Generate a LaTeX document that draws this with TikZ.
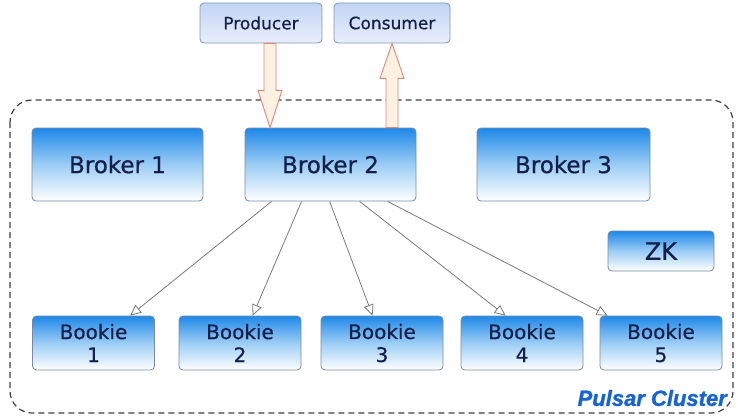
\documentclass[tikz,border=0pt]{standalone}
\usepackage{fontspec}
\setmainfont{DejaVu Sans}[FakeBold=0.6]
\newfontfamily\clusterfont{Liberation Sans}[FakeBold=1.2]
\usetikzlibrary{arrows.meta,calc}
\definecolor{txt}{HTML}{15204A}
\definecolor{bluetop}{HTML}{1E88E8}
\definecolor{bluemid}{HTML}{9CCDF5}
\definecolor{boxline}{HTML}{7A8AA6}
\definecolor{clienttop}{HTML}{C3D4F4}
\definecolor{clientbot}{HTML}{E9EFFB}
\definecolor{clientline}{HTML}{8093BA}
\definecolor{fatfill}{HTML}{FDF1E2}
\definecolor{fatline}{HTML}{E0887A}
\definecolor{linkgray}{HTML}{7A7A7A}
\definecolor{clusterblue}{HTML}{1663D6}
\tikzset{
  bluebox/.style={draw=boxline, line width=0.8pt, rounded corners=4pt,
    top color=bluetop, bottom color=white, middle color=bluemid,
    text=txt, align=center, inner sep=0pt},
  clientbox/.style={draw=clientline, line width=0.8pt, rounded corners=4pt,
    top color=clienttop, bottom color=clientbot,
    text=txt, align=center, inner sep=0pt, font=\fontsize{17}{20}\selectfont},
  link/.style={draw=linkgray, line width=0.8pt,
    -{Triangle[open, length=11pt, width=10pt, fill=white]}},
  fatarrow/.style={draw=fatline, fill=fatfill, line width=0.9pt, line join=miter},
}
\begin{document}
\begin{tikzpicture}[x=1pt,y=-1pt]
\useasboundingbox (0,0) rectangle (738,415);
% cluster frame
\draw[dashed, dash pattern=on 6pt off 4pt, line width=1.2pt, draw=black!75, rounded corners=22pt]
  (10,100) rectangle (733,413);
% clients
\node[clientbox, minimum width=122pt, minimum height=40pt] (prod) at (261,23) {Producer};
\node[clientbox, minimum width=116pt, minimum height=40pt] (cons) at (392,23) {Consumer};
% brokers
\node[bluebox, minimum width=171pt, minimum height=73pt, font=\fontsize{23}{26}\selectfont] (b1) at (117.5,164.5) {Broker 1};
\node[bluebox, minimum width=171pt, minimum height=73pt, font=\fontsize{23}{26}\selectfont] (b2) at (330.5,164.5) {Broker 2};
\node[bluebox, minimum width=173pt, minimum height=73pt, font=\fontsize{23}{26}\selectfont] (b3) at (563.5,164.5) {Broker 3};
\node[bluebox, minimum width=106pt, minimum height=40pt, font=\fontsize{24}{26}\selectfont] (zk) at (661,251) {ZK};
% bookies
\foreach \n/\x in {1/93.5, 2/240, 3/382, 4/522, 5/661}{
  \node[bluebox, minimum width=122pt, minimum height=54pt, font=\fontsize{20}{23}\selectfont] (bk\n) at (\x,343) {Bookie\\\n};
}
% links broker 2 -> bookies
\draw[link] ($(b2.south west)+(27,0)$) -- ($(bk1.north west)+(98,0)$);
\draw[link] ($(b2.south west)+(57,0)$) -- ($(bk2.north west)+(74,0)$);
\draw[link] ($(b2.south west)+(85,0)$) -- ($(bk3.north west)+(52,0)$);
\draw[link] ($(b2.south west)+(115,0)$) -- ($(bk4.north west)+(45,0)$);
\draw[link] ($(b2.south west)+(143,0)$) -- ($(bk5.north west)+(8,0)$);
% fat arrows
\coordinate (pin) at ($(prod.south)+(9,0)$);
\coordinate (pout) at (pin |- b2.north);
\draw[fatarrow] ($(pin)+(-6,0)$) -- ($(pin)+(-6,47)$) -- ($(pin)+(-12,47)$) -- (pout)
  -- ($(pin)+(12,47)$) -- ($(pin)+(6,47)$) -- ($(pin)+(6,0)$) -- cycle;
\coordinate (ctip) at (cons.south);
\coordinate (cbase) at (ctip |- b2.north);
\draw[fatarrow] ($(cbase)+(-6,0)$) -- ($(ctip)+(-6,35)$) -- ($(ctip)+(-12,35)$) -- (ctip)
  -- ($(ctip)+(12,35)$) -- ($(ctip)+(6,35)$) -- ($(cbase)+(6,0)$) -- cycle;
% label
\node[anchor=east, text=clusterblue, font=\clusterfont\bfseries\itshape\fontsize{22}{24}\selectfont, inner sep=0pt] (lbl) at (727,398) {Pulsar Cluster};
\end{tikzpicture}
\end{document}
